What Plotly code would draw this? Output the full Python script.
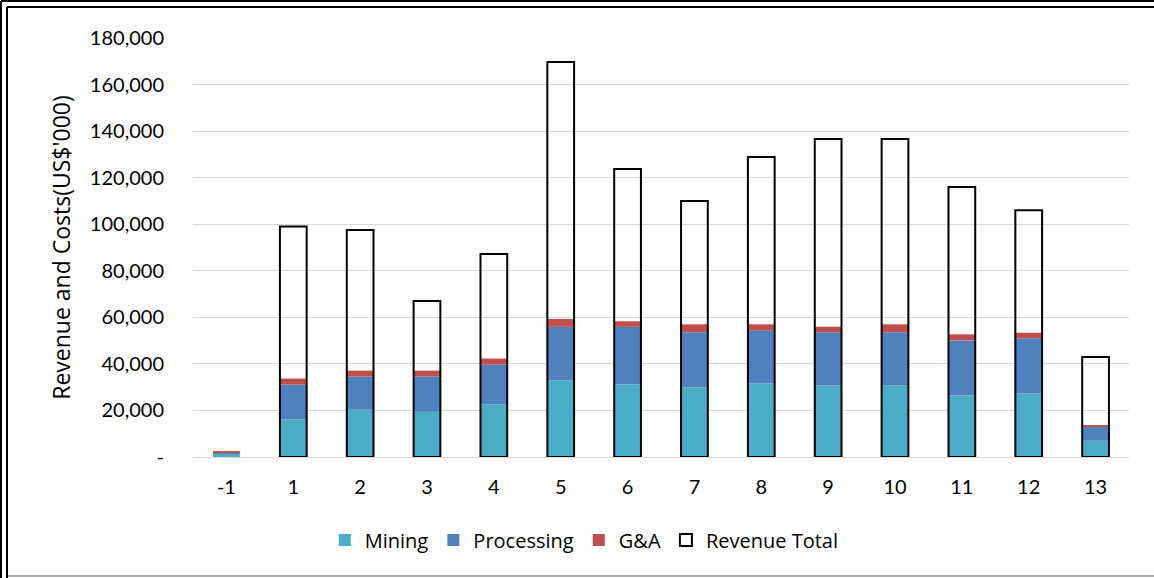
import plotly.graph_objects as go
import numpy as np

years = ["-1", "1", "2", "3", "4", "5", "6", "7", "8", "9", "10", "11", "12", "13"]
mining = [1500, 16100, 20300, 19400, 22700, 33000, 31300, 29900, 31600, 30700, 30700, 26400, 27300, 7000]
processing = [400, 15000, 14300, 15200, 17000, 22900, 24600, 23700, 22800, 22900, 22900, 23700, 23700, 5900]
g_and_a = [600, 2600, 2500, 2500, 2600, 3400, 2400, 3400, 2600, 2400, 3400, 2600, 2400, 800]
revenue_total = [None, 99000, 97500, 67000, 87200, 169700, 123700, 110000, 128900, 136600, 136600, 116000, 106000, 43000]

y_tickvals = [0, 20000, 40000, 60000, 80000, 100000, 120000, 140000, 160000, 180000]
y_ticktext = ["-", "20,000", "40,000", "60,000", "80,000", "100,000", "120,000", "140,000", "160,000", "180,000"]

FONT = "Lato"
WIDE = "Open Sans"
BW = 0.4

m = np.array(mining, dtype=float)
p = np.array(processing, dtype=float)

fig = go.Figure()
fig.add_trace(go.Bar(x=years, y=mining, base=0, name="Mining", width=BW,
                     marker=dict(color="#4BACC6", line=dict(width=0))))
fig.add_trace(go.Bar(x=years, y=processing, base=m.tolist(), name="Processing", width=BW,
                     marker=dict(color="#4F81BD", line=dict(width=0))))
fig.add_trace(go.Bar(x=years, y=g_and_a, base=(m + p).tolist(), name="G&A", width=BW,
                     marker=dict(color="#C0504D", line=dict(width=0))))
fig.add_trace(go.Bar(x=years, y=revenue_total, base=0, name="Revenue Total", width=BW,
                     marker=dict(color="rgba(255,255,255,0)", line=dict(color="black", width=2))))

W, H = 1154, 578
L, R, T, B = 193, 25, 38, 121
pw, ph = W - L - R, H - T - B


def px(x):
    return (x - L) / pw


def py(y):
    return (H - B - y) / ph


shapes = []
for (x0, y0, x1, y1) in [(1, 1, 1, 578), (1, 1, 1154, 1), (7, 7, 7, 578), (7, 7, 1154, 7)]:
    shapes.append(dict(type="line", xref="paper", yref="paper",
                       x0=px(x0), y0=py(y0), x1=px(x1), y1=py(y1),
                       line=dict(color="black", width=2)))
shapes.append(dict(type="line", xref="paper", yref="paper",
                   x0=px(8), y0=py(576), x1=px(1154), y1=py(576),
                   line=dict(color="#8C8C8C", width=1.5)))

fig.update_layout(
    width=W, height=H,
    margin=dict(l=L, r=R, t=T, b=B),
    barmode="overlay",
    plot_bgcolor="white", paper_bgcolor="white",
    font=dict(family=FONT, size=20, color="black"),
    showlegend=True,
    legend=dict(orientation="h", x=0.418, xanchor="center", y=py(540), yanchor="middle",
                font=dict(family=WIDE, size=20, color="black"), traceorder="normal",
                itemclick=False),
    shapes=shapes,
)
fig.update_xaxes(type="category", showgrid=False, showline=True, linecolor="#D9D9D9", linewidth=1,
                 ticks="", tickfont=dict(size=20), ticklabelstandoff=12)
fig.update_yaxes(range=[0, 180000], tickvals=y_tickvals, ticktext=y_ticktext,
                 showgrid=True, gridcolor="#D9D9D9", gridwidth=1, zeroline=False,
                 showline=False, ticks="", tickfont=dict(size=20), ticklabelstandoff=28,
                 title=dict(text="Revenue and Costs(US$'000)", font=dict(family=WIDE, size=23), standoff=12))

fig.write_html("out.html")
